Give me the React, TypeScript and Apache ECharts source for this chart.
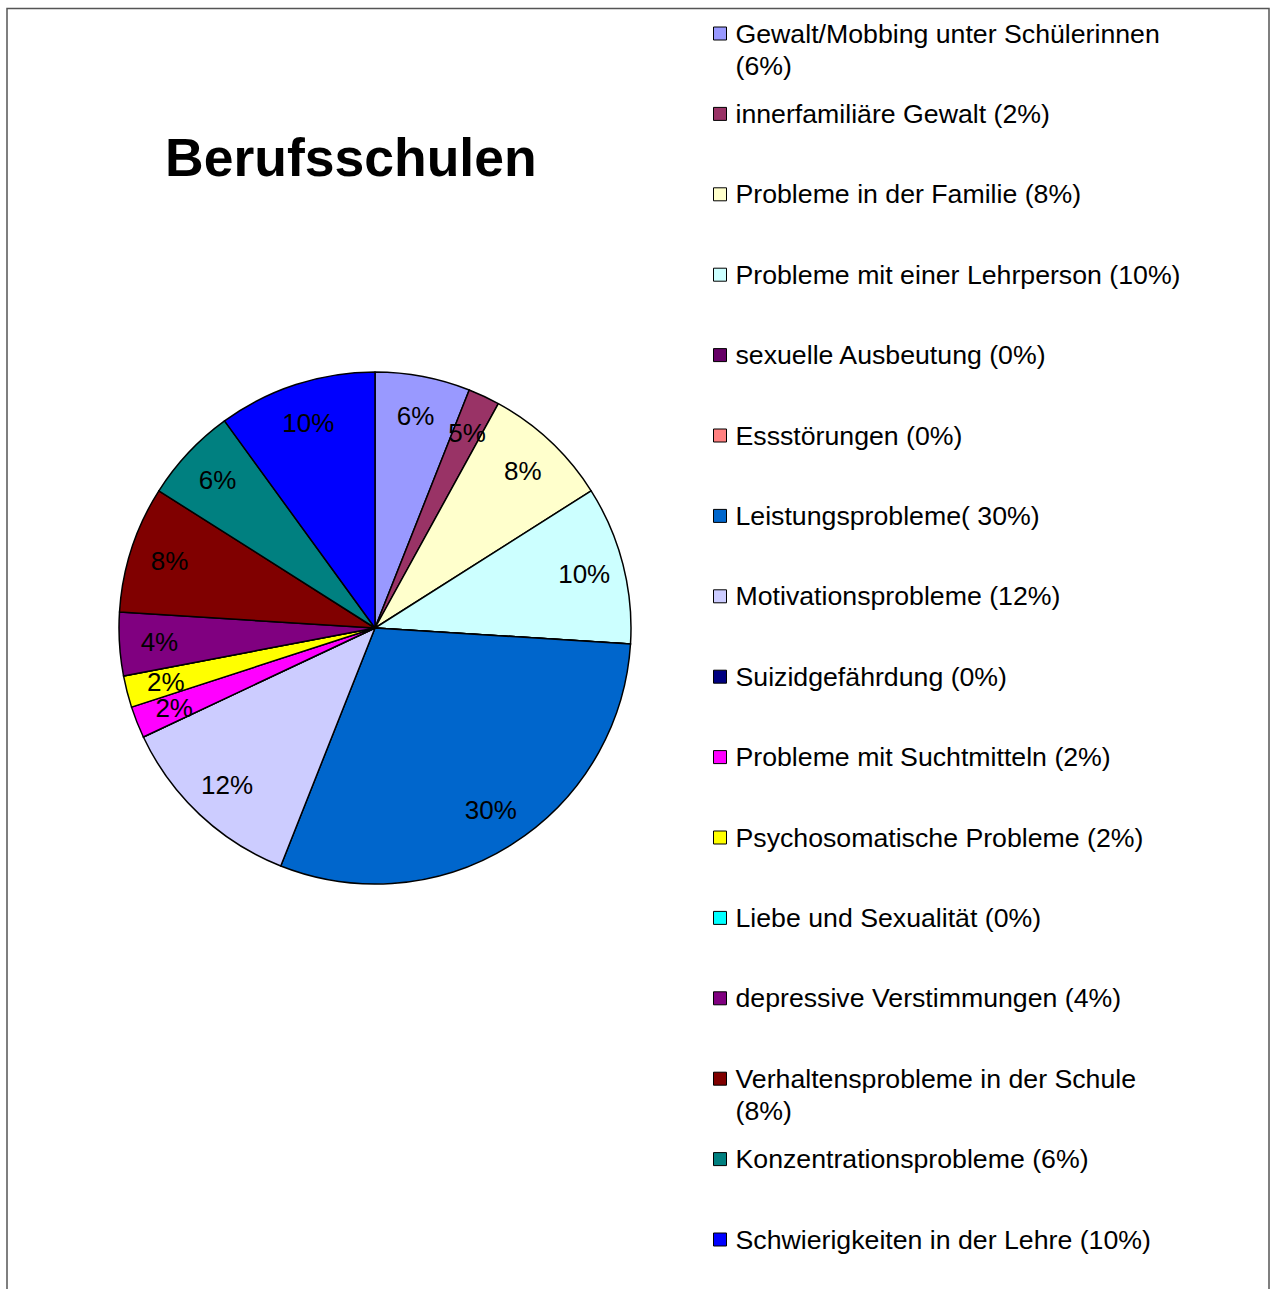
import React, { useEffect, useRef } from "react";
import * as echarts from "echarts";

const categories = [
  "Gewalt/Mobbing unter Schülerinnen",
  "innerfamiliäre Gewalt",
  "Probleme in der Familie",
  "Probleme mit einer Lehrperson",
  "sexuelle Ausbeutung",
  "Essstörungen",
  "Leistungsprobleme",
  "Motivationsprobleme",
  "Suizidgefährdung",
  "Probleme mit Suchtmitteln",
  "Psychosomatische Probleme",
  "Liebe und Sexualität",
  "depressive Verstimmungen",
  "Verhaltensprobleme in der Schule",
  "Konzentrationsprobleme",
  "Schwierigkeiten in der Lehre",
];

const values = [6, 2, 8, 10, 0, 0, 30, 12, 0, 2, 2, 0, 4, 8, 6, 10];

const colors = [
  "#9999FF", "#993366", "#FFFFCC", "#CCFFFF", "#660066", "#FF8080",
  "#0066CC", "#CCCCFF", "#000080", "#FF00FF", "#FFFF00", "#00FFFF",
  "#800080", "#800000", "#008080", "#0000FF",
];

const pieLabelTexts = [
  "6%", "5%", "8%", "10%", "", "", "30%", "12%", "", "2%", "2%", "", "4%", "8%", "6%", "10%",
];

const legendTexts = [
  "Gewalt/Mobbing unter Schülerinnen\n(6%)",
  "innerfamiliäre Gewalt (2%)",
  "Probleme in der Familie (8%)",
  "Probleme mit einer Lehrperson (10%)",
  "sexuelle Ausbeutung (0%)",
  "Essstörungen (0%)",
  "Leistungsprobleme( 30%)",
  "Motivationsprobleme (12%)",
  "Suizidgefährdung (0%)",
  "Probleme mit Suchtmitteln (2%)",
  "Psychosomatische Probleme (2%)",
  "Liebe und Sexualität (0%)",
  "depressive Verstimmungen (4%)",
  "Verhaltensprobleme in der Schule\n(8%)",
  "Konzentrationsprobleme (6%)",
  "Schwierigkeiten in der Lehre (10%)",
];

const titleText = "Berufsschulen";

export default function App() {
  const ref = useRef<HTMLDivElement>(null);

  useEffect(() => {
    const chart = echarts.init(ref.current!, null, { renderer: "svg" });
    const font = "'Liberation Sans', Arial, Helvetica, sans-serif";

    const data = categories.map((name, i) => ({
      name,
      value: values[i],
      itemStyle: { color: colors[i] },
    }));

    const labelData = categories.map((name, i) => ({
      name,
      value: values[i],
    }));

    const legends = categories.map((name, i) => ({
      orient: "vertical",
      left: 713,
      top: 20 + i * 80.4,
      padding: 0,
      selectedMode: false,
      itemWidth: 13,
      itemHeight: 13,
      icon: "rect",
      itemStyle: { borderColor: "#000", borderWidth: 1 },
      data: [name],
      formatter: (n: string) => `{t|${legendTexts[categories.indexOf(n)]}}`,
      textStyle: {
        height: 32,
        padding: [0, 0, 0, 4],
        rich: {
          t: { fontSize: 26.7, lineHeight: 32, fontFamily: font, color: "#000" },
        },
      },
    }));

    chart.setOption({
      animation: false,
      backgroundColor: "#fff",
      title: {
        text: titleText,
        left: 165,
        top: 127,
        padding: 0,
        textStyle: {
          fontSize: 53.5,
          fontWeight: "bold",
          lineHeight: 60,
          color: "#000",
          fontFamily: font,
        },
      },
      legend: legends,
      graphic: [
        {
          type: "rect",
          shape: { x: 7, y: 8.5, width: 1262, height: 1400 },
          style: { fill: "none", stroke: "#555", lineWidth: 1.5 },
          silent: true,
        },
      ],
      series: [
        {
          type: "pie",
          center: [375, 628],
          radius: [0, 256],
          startAngle: 90,
          clockwise: true,
          data,
          label: { show: false },
          labelLine: { show: false },
          itemStyle: { borderColor: "#000", borderWidth: 1.5 },
          emphasis: { disabled: true },
          silent: true,
        },
        {
          type: "pie",
          center: [375, 628],
          radius: [172, 254],
          startAngle: 90,
          clockwise: true,
          avoidLabelOverlap: false,
          data: labelData,
          itemStyle: { color: "rgba(0,0,0,0)", borderWidth: 0 },
          label: {
            show: true,
            position: "inside",
            formatter: (p: any) => pieLabelTexts[p.dataIndex],
            fontSize: 26,
            fontFamily: font,
            color: "#000",
          },
          labelLayout: { hideOverlap: false },
          labelLine: { show: false },
          emphasis: { disabled: true },
          silent: true,
        },
      ],
    });

    return () => chart.dispose();
  }, []);

  return (
    <div
      ref={ref}
      style={{ position: "absolute", left: 0, top: 0, width: 1272, height: 1289, background: "#fff" }}
    />
  );
}
